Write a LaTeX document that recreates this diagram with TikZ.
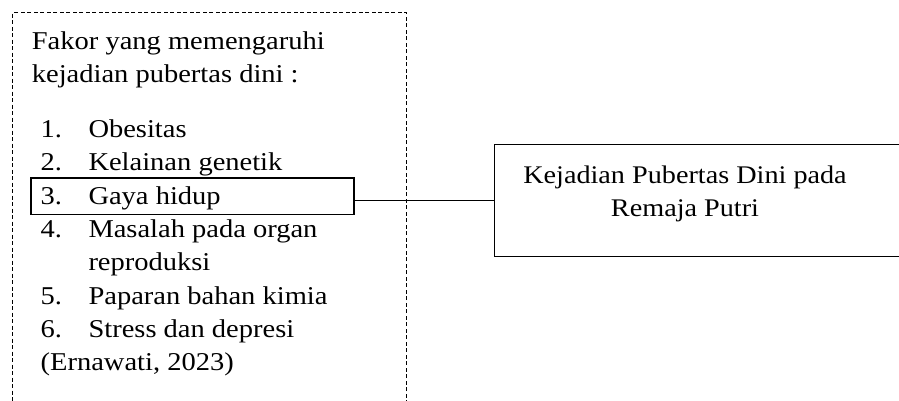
\documentclass[tikz,border=0pt]{standalone}
\usepackage{fontspec}
\setmainfont{Liberation Serif}
\newcommand{\sqz}[1]{\scalebox{1}[0.9]{#1}}
\begin{document}
\begin{tikzpicture}[x=1pt,y=-1pt,
  txt/.style={anchor=base west, inner sep=0pt, font=\fontsize{28.5}{33}\selectfont},
  ctxt/.style={anchor=base, inner sep=0pt, font=\fontsize{28.2}{33}\selectfont},
  dbox/.style={draw, rectangle, inner sep=0pt, line width=1pt, dash pattern=on 4pt off 2.5pt},
  gbox/.style={draw, rectangle, inner sep=0pt, line width=1.8pt},
  tbox/.style={draw, rectangle, inner sep=0pt, line width=1.2pt},
  link/.style={draw, line width=1pt}]
\useasboundingbox (0,0) rectangle (899,400);
\clip (0,0) rectangle (899,400);
% dashed frame (bottom edge outside the picture)
\node[dbox, anchor=north west, minimum width=394pt, minimum height=420pt] (frame) at (12,12) {};
% box around item 3
\node[gbox, anchor=north west, minimum width=323pt, minimum height=36.5pt] (gaya) at (30,177) {};
% target box (right edge outside the picture)
\node[tbox, anchor=north west, minimum width=420pt, minimum height=112pt] (target) at (494,144) {};
% texts
\node[txt] (l1) at (31.7,49) {\sqz{Fakor yang memengaruhi}};
\node[txt] (l2) at (31.7,82) {\sqz{kejadian pubertas dini :}};
\node[txt] (n1) at (40.5,137) {\sqz{1.}};
\node[txt] (t1) at (88.3,137) {\sqz{Obesitas}};
\node[txt] (n2) at (40.5,170.5) {\sqz{2.}};
\node[txt] (t2) at (88.3,170.5) {\sqz{Kelainan genetik}};
\node[txt] (n3) at (40.5,204) {\sqz{3.}};
\node[txt] (t3) at (88.3,204) {\sqz{Gaya hidup}};
\node[txt] (n4) at (40.5,237.3) {\sqz{4.}};
\node[txt] (t4) at (88.3,237.3) {\sqz{Masalah pada organ}};
\node[txt] (t4b) at (88.3,270.7) {\sqz{reproduksi}};
\node[txt] (n5) at (40.5,304) {\sqz{5.}};
\node[txt] (t5) at (88.3,304) {\sqz{Paparan bahan kimia}};
\node[txt] (n6) at (40.5,337.3) {\sqz{6.}};
\node[txt] (t6) at (88.3,337.3) {\sqz{Stress dan depresi}};
\node[txt] (cite) at (40.5,370) {\sqz{(Ernawati, 2023)}};
\node[ctxt] (r1) at (685,183.3) {\sqz{Kejadian Pubertas Dini pada}};
\node[ctxt] (r2) at (685,216.7) {\sqz{Remaja Putri}};
% connector
\draw[link] (gaya.east |- target.west) -- (target.west);
\end{tikzpicture}
\end{document}
